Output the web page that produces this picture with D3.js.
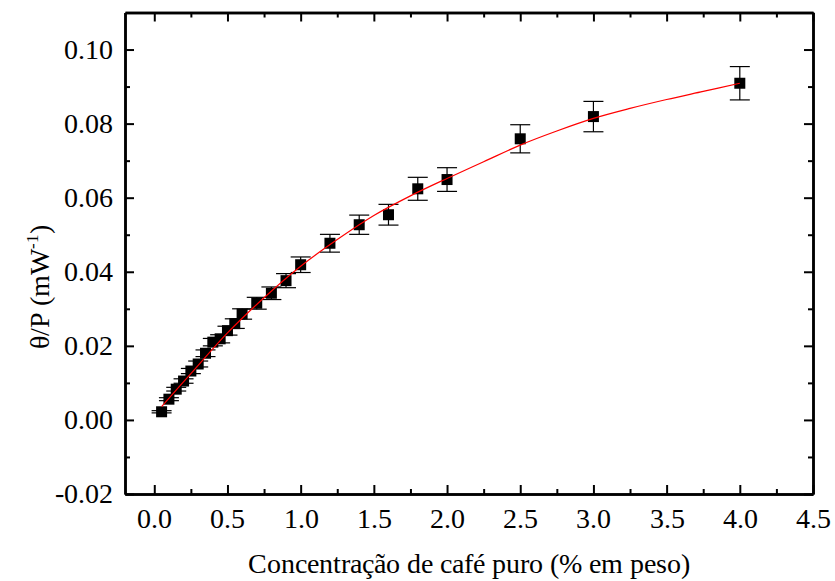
<!DOCTYPE html>
<html><head><meta charset="utf-8">
<script src="https://cdn.jsdelivr.net/npm/d3@7/dist/d3.min.js"></script>
<style>
@font-face{font-family:"ChartSerif";src:local("Liberation Serif"),local("LiberationSerif"),local("LiberationSerif-Regular"),local("Tinos"),local("Times New Roman");}
body{margin:0;background:#fff}
svg{display:block}
</style>
</head><body><svg id="c" width="835" height="581"></svg>
<script>
// Data
const conc = [0.05,0.10,0.15,0.20,0.25,0.30,0.35,0.40,0.45,0.50,0.55,0.60,0.70,0.80,0.90,1.00,1.20,1.40,1.60,1.80,2.00,2.50,3.00,4.00];
const theta = [0.0022,0.0056,0.0083,0.0105,0.0132,0.0151,0.0180,0.0210,0.0219,0.0241,0.0260,0.0286,0.0315,0.0342,0.0376,0.0419,0.0477,0.0527,0.0554,0.0624,0.0649,0.0759,0.0819,0.0909];
const errs = [0.0003,0.0004,0.0005,0.0006,0.0007,0.0008,0.0009,0.0010,0.0011,0.0012,0.0013,0.0014,0.0016,0.0017,0.0019,0.0021,0.0024,0.0026,0.0028,0.0031,0.0032,0.0038,0.0041,0.0045];
const fitX = [0.05,0.25,0.5,0.75,1.0,1.25,1.5,1.75,2.0,2.25,2.5,2.75,3.0,3.25,3.5,3.75,4.0];
const fitY = [0.0036,0.0125,0.0235,0.0330,0.0415,0.0487,0.0552,0.0605,0.0652,0.0697,0.0742,0.0780,0.0814,0.0841,0.0865,0.0887,0.0909];
const xTicks = [0,0.5,1.0,1.5,2.0,2.5,3.0,3.5,4.0,4.5];
const yTicks = [-0.02,0,0.02,0.04,0.06,0.08,0.10];
const xMinor = [0.25,0.75,1.25,1.75,2.25,2.75,3.25,3.75,4.25];
const yMinor = [-0.01,0.01,0.03,0.05,0.07,0.09];

const FONT = "ChartSerif, 'Liberation Serif', Tinos, 'Times New Roman', serif";
const svg = d3.select("#c");
const L=125,R=813,T=12.5,B=494;
const x = d3.scaleLinear().domain([-0.2,4.5]).range([L,R]);
const y = d3.scaleLinear().domain([-0.02,0.11]).range([B,T]);

const fmtX = d => d.toFixed(1), fmtY = d => d.toFixed(2);
const axes = svg.append("g");
axes.append("g").attr("transform",`translate(0,${B})`)
  .call(d3.axisBottom(x).tickValues(xTicks).tickSizeInner(-9).tickSizeOuter(0).tickPadding(14).tickFormat(fmtX));
axes.append("g").attr("transform",`translate(${L},0)`)
  .call(d3.axisLeft(y).tickValues(yTicks).tickSizeInner(-9).tickSizeOuter(0).tickPadding(12).tickFormat(fmtY));
axes.append("g").attr("transform",`translate(0,${T})`)
  .call(d3.axisTop(x).tickValues(xTicks).tickSizeInner(-9).tickSizeOuter(0).tickFormat(""));
axes.append("g").attr("transform",`translate(${R},0)`)
  .call(d3.axisRight(y).tickValues(yTicks).tickSizeInner(-9).tickSizeOuter(0).tickFormat(""));
axes.append("g").attr("transform",`translate(0,${B})`).call(d3.axisBottom(x).tickValues(xMinor).tickSizeInner(-5).tickSizeOuter(0).tickFormat(""));
axes.append("g").attr("transform",`translate(0,${T})`).call(d3.axisTop(x).tickValues(xMinor).tickSizeInner(-5).tickSizeOuter(0).tickFormat(""));
axes.append("g").attr("transform",`translate(${L},0)`).call(d3.axisLeft(y).tickValues(yMinor).tickSizeInner(-5).tickSizeOuter(0).tickFormat(""));
axes.append("g").attr("transform",`translate(${R},0)`).call(d3.axisRight(y).tickValues(yMinor).tickSizeInner(-5).tickSizeOuter(0).tickFormat(""));
axes.selectAll("g").attr("font-family",FONT).attr("font-size",28);
axes.selectAll(".domain").attr("stroke","#000").attr("stroke-width",2.5);
axes.selectAll(".tick line").attr("stroke","#000").attr("stroke-width",2);
axes.selectAll(".tick text").attr("fill","#000").style("font-family",FONT).style("font-size","28px");

// error bars
const eb = svg.append("g").attr("stroke","#000").attr("stroke-width",1.2);
conc.forEach((c,i)=>{
  const cx=x(c), y1=y(theta[i]+errs[i]), y2=y(theta[i]-errs[i]);
  eb.append("line").attr("x1",cx).attr("x2",cx).attr("y1",y1).attr("y2",y2);
  eb.append("line").attr("x1",cx-10).attr("x2",cx+10).attr("y1",y1).attr("y2",y1);
  eb.append("line").attr("x1",cx-10).attr("x2",cx+10).attr("y1",y2).attr("y2",y2);
});
// markers
svg.append("g").selectAll("rect").data(conc).join("rect")
  .attr("x",d=>x(d)-5.5).attr("y",(d,i)=>y(theta[i])-5.5).attr("width",11).attr("height",11).attr("fill","#000");
// fit line
const line = d3.line().x((d,i)=>x(fitX[i])).y(d=>y(d)).curve(d3.curveCatmullRom);
svg.append("path").attr("d",line(fitY)).attr("fill","none").attr("stroke","#ff0000").attr("stroke-width",1.2);

// titles
svg.append("text").attr("x",469).attr("y",573).attr("text-anchor","middle").attr("font-size",28)
  .style("font-family",FONT).text("Concentração de café puro (% em peso)");
const yt = svg.append("text").attr("transform","translate(49,287) rotate(-90)").attr("text-anchor","middle").attr("font-size",28)
  .style("font-family",FONT);
yt.append("tspan").text("θ/P (mW");
yt.append("tspan").attr("font-size",17).attr("dy",-11).text("-1");
yt.append("tspan").attr("dy",11).text(")");
</script></body></html>
